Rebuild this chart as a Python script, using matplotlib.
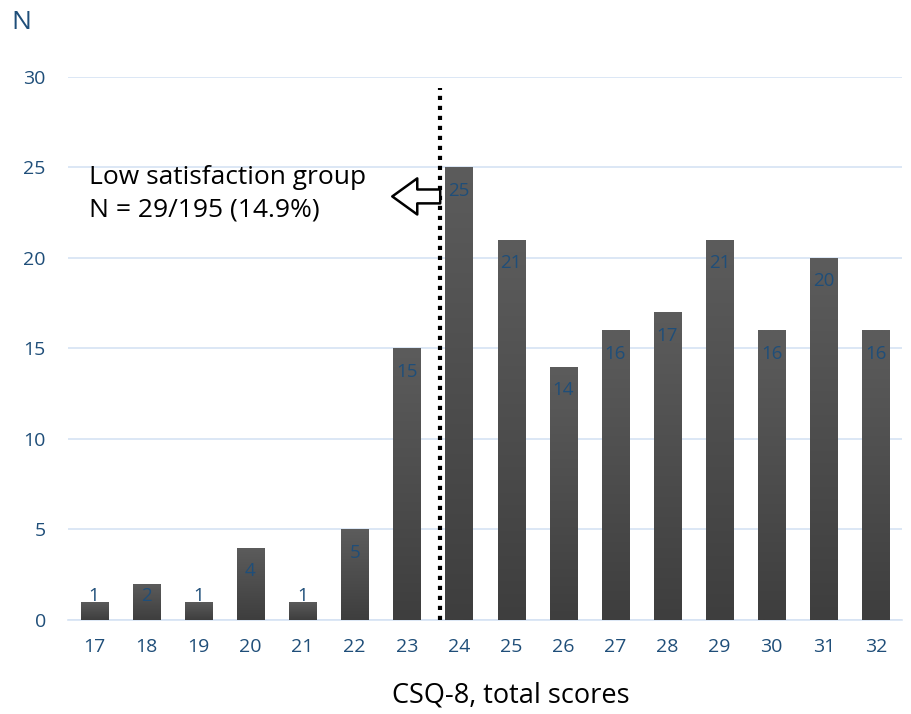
import matplotlib.pyplot as plt
import numpy as np
from matplotlib.colors import LinearSegmentedColormap

plt.rcParams['font.family'] = ['Open Sans', 'DejaVu Sans']

# ── data ──
scores = ["17", "18", "19", "20", "21", "22", "23", "24",
          "25", "26", "27", "28", "29", "30", "31", "32"]
counts = [1, 2, 1, 4, 1, 5, 15, 25, 21, 14, 16, 17, 21, 16, 20, 16]
y_ticks = [0, 5, 10, 15, 20, 25, 30]

BLUE = "#1f4e79"
GRID = "#d6e3f3"

fig = plt.figure(figsize=(9.12, 7.14), dpi=100)
ax = fig.add_axes([0.0746, 0.1317, 0.9145, 0.7605])

x = np.arange(len(scores))
bars = ax.bar(x, counts, width=0.52, color="#4a4a4a", zorder=3)

# vertical gradient inside each bar
cmap = LinearSegmentedColormap.from_list("g", ["#3e3e3e", "#5c5c5c"])
grad = np.linspace(0, 1, 256).reshape(-1, 1)
for b in bars:
    bx, by = b.get_x(), b.get_y()
    w, h = b.get_width(), b.get_height()
    im = ax.imshow(grad, cmap=cmap, origin="lower", aspect="auto",
                   extent=[bx, bx + w, by, by + h], zorder=4)
    im.set_clip_path(b)

for xi, v in zip(x, counts):
    ax.text(xi, max(v - 1.3, 1.3), str(v), ha="center", va="center",
            color=BLUE, fontsize=13.5, zorder=5)

ax.set_xlim(-0.5, len(scores) - 0.5)
ax.set_ylim(0, 30)
ax.set_yticks(y_ticks)
ax.set_xticks(x)
ax.set_xticklabels(scores)
ax.tick_params(axis="both", length=0, colors=BLUE, labelsize=14)
ax.tick_params(axis="y", pad=16)
ax.tick_params(axis="x", pad=13)
ax.yaxis.grid(True, color=GRID, linewidth=1.2, zorder=0)
ax.set_axisbelow(True)
for s in ["top", "right", "left"]:
    ax.spines[s].set_visible(False)
ax.spines["bottom"].set_color(GRID)
ax.spines["bottom"].set_linewidth(1.2)

# cut-off line and annotation
ax.plot([6.64, 6.64], [0, 29.4], color="black", linewidth=3,
        linestyle=(0, (1, 1.4)), zorder=6)
ax.annotate("", xy=(5.72, 23.4), xytext=(6.64, 23.4),
            arrowprops=dict(arrowstyle="simple,head_length=18,head_width=26,tail_width=10",
                            mutation_scale=1, fc="white", ec="black", lw=1.8,
                            shrinkA=0, shrinkB=0), zorder=7)
ax.text(-0.1, 23.55, "Low satisfaction group\nN = 29/195 (14.9%)",
        ha="left", va="center", fontsize=19, color="black",
        linespacing=1.4, zorder=7)

fig.text(0.012, 0.968, "N", ha="left", va="center", fontsize=19, color=BLUE)
fig.text(0.56, 0.026, "CSQ-8, total scores", ha="center", va="center",
         fontsize=19.5, color="black")

fig.savefig("out.png", dpi=100)
